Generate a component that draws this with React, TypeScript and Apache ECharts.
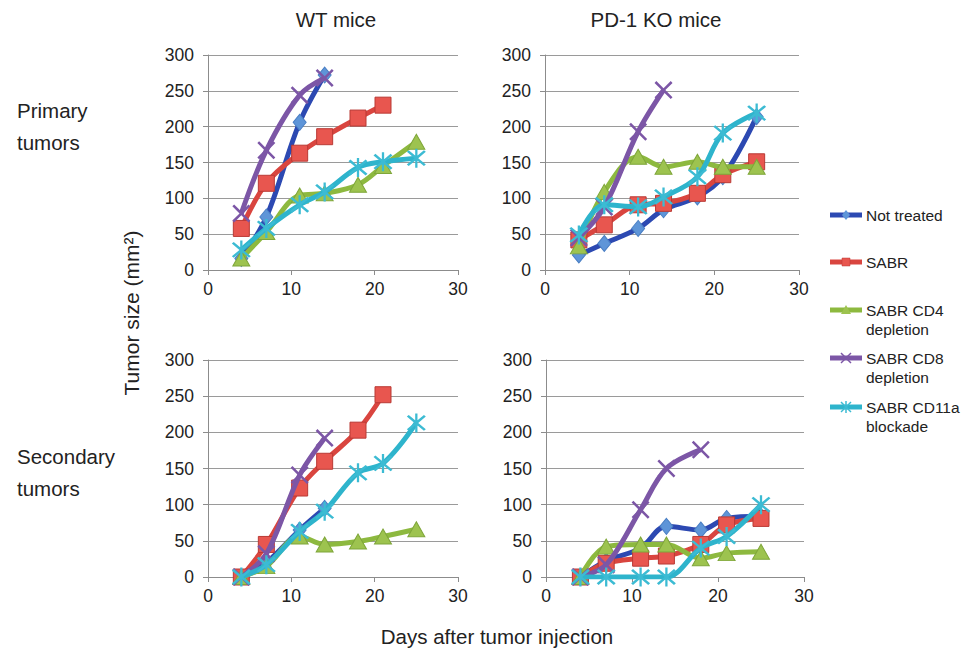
import React, { useEffect, useRef } from "react";
import * as echarts from "echarts";

const DAYS = [4, 7, 11, 14, 18, 21, 25];
const SERIES_NAMES = ["Not treated", "SABR", "SABR CD4\ndepletion", "SABR CD8\ndepletion", "SABR CD11a\nblockade"];
const LINE_COLORS = ["#2C49B2", "#D9453F", "#8DB93F", "#7C56A6", "#2EB4CC"];
const MARKER_FILL = ["#5E95D8", "#E8564F", "#9DC34F", "#7C56A6", "#3CBBD3"];
const MARKER_BORDER = ["#4A7FC4", "#B93A35", "#7FA63A", "#7C56A6", "#3CBBD3"];

const COL_TITLES = ["WT mice", "PD-1 KO mice"];
const ROW_TITLES = ["Primary\ntumors", "Secondary\ntumors"];
const X_TICKS = [0, 10, 20, 30];
const Y_TICKS = [0, 50, 100, 150, 200, 250, 300];

// WT mice, primary tumors
const wtPrimaryNotTreated = [16, 74, 206, 272];
const wtPrimarySABR = [58, 121, 163, 186, 212, 230];
const wtPrimaryCD4 = [16, 53, 104, 107, 119, 145, 179];
const wtPrimaryCD8 = [79, 167, 244, 268];
const wtPrimaryCD11a = [28, 58, 91, 109, 143, 151, 156];

// PD-1 KO mice, primary tumors
const koPrimaryNotTreated = [21, 37, 58, 84, 102, 130, 214];
const koPrimarySABR = [42, 63, 91, 93, 107, 133, 151];
const koPrimaryCD4 = [33, 109, 158, 144, 151, 144, 144];
const koPrimaryCD8 = [45, 88, 193, 251];
const koPrimaryCD11a = [49, 91, 88, 102, 130, 191, 219];

// WT mice, secondary tumors
const wtSecondaryNotTreated = [0, 20, 65, 95];
const wtSecondarySABR = [0, 45, 123, 160, 203, 252];
const wtSecondaryCD4 = [0, 15, 56, 45, 49, 56, 66];
const wtSecondaryCD8 = [0, 32, 141, 192];
const wtSecondaryCD11a = [0, 17, 63, 91, 144, 157, 213];

// PD-1 KO mice, secondary tumors
const koSecondaryNotTreated = [0, 22, 40, 70, 65, 81, 84];
const koSecondarySABR = [0, 19, 26, 29, 45, 72, 81];
const koSecondaryCD4 = [0, 42, 45, 45, 26, 33, 35];
const koSecondaryCD8 = [0, 17, 93, 150, 176];
const koSecondaryCD11a = [0, 0, 0, 0, 40, 56, 100];

const PANELS = [
  [wtPrimaryNotTreated, wtPrimarySABR, wtPrimaryCD4, wtPrimaryCD8, wtPrimaryCD11a],
  [koPrimaryNotTreated, koPrimarySABR, koPrimaryCD4, koPrimaryCD8, koPrimaryCD11a],
  [wtSecondaryNotTreated, wtSecondarySABR, wtSecondaryCD4, wtSecondaryCD8, wtSecondaryCD11a],
  [koSecondaryNotTreated, koSecondarySABR, koSecondaryCD4, koSecondaryCD8, koSecondaryCD11a],
];

const GRIDS = [
  { left: 208, top: 55, width: 250, height: 215 },
  { left: 545, top: 55, width: 254, height: 215 },
  { left: 208, top: 360, width: 250, height: 217 },
  { left: 546, top: 360, width: 258, height: 217 },
];

const X_PATH =
  "path://M1,0 L5,4 L9,0 L10,1 L6,5 L10,9 L9,10 L5,6 L1,10 L0,9 L4,5 L0,1 Z";
const STAR_PATH =
  "path://M1,0 L5,4 L9,0 L10,1 L6,5 L10,9 L9,10 L5,6 L1,10 L0,9 L4,5 L0,1 Z M4.4,-1 L5.6,-1 L5.6,11 L4.4,11 Z";
const SYMBOLS = ["diamond", "rect", "triangle", X_PATH, STAR_PATH];
const SYMBOL_SIZES: any[] = [[13, 16], 16, [17, 15], 18, 19];

export default function App() {
  const ref = useRef<HTMLDivElement>(null);
  useEffect(() => {
    if (!ref.current) return;
    const chart = echarts.init(ref.current, undefined, { renderer: "svg" });
    const font = "Liberation Sans, Arial, Helvetica, sans-serif";
    const textColor = "#222";

    const grid = GRIDS.map((g) => ({ ...g }));
    const xAxis = GRIDS.map((_, i) => ({
      type: "value",
      gridIndex: i,
      min: X_TICKS[0],
      max: X_TICKS[X_TICKS.length - 1],
      interval: 10,
      axisLine: { show: true, lineStyle: { color: "#8c8c8c", width: 1 } },
      axisTick: { show: true, length: 5, lineStyle: { color: "#8c8c8c" } },
      splitLine: { show: false },
      axisLabel: { color: textColor, fontSize: 17.5, fontFamily: font, margin: 10 },
    }));
    const yAxis = GRIDS.map((_, i) => ({
      type: "value",
      gridIndex: i,
      min: Y_TICKS[0],
      max: Y_TICKS[Y_TICKS.length - 1],
      interval: 50,
      axisLine: { show: true, lineStyle: { color: "#8c8c8c", width: 1 } },
      axisTick: { show: true, length: 5, lineStyle: { color: "#8c8c8c" } },
      splitLine: { show: true, lineStyle: { color: "#9a9a9a", width: 1 } },
      axisLabel: { color: textColor, fontSize: 17.5, fontFamily: font, margin: 14 },
    }));

    const series: any[] = [];
    PANELS.forEach((panel, p) => {
      panel.forEach((vals, s) => {
        series.push({
          type: "line",
          name: SERIES_NAMES[s],
          xAxisIndex: p,
          yAxisIndex: p,
          data: vals.map((v, k) => [DAYS[k], v]),
          smooth: 0.35,
          symbol: SYMBOLS[s],
          symbolSize: SYMBOL_SIZES[s],
          lineStyle: { color: LINE_COLORS[s], width: 5 },
          itemStyle: {
            color: MARKER_FILL[s],
            borderColor: MARKER_BORDER[s],
            borderWidth: s >= 3 ? 0 : 1,
          },
          z: 2 + s,
        });
      });
    });

    const graphic: any[] = [];
    // Column titles
    const colCenters = [336, 656];
    COL_TITLES.forEach((t, i) => {
      graphic.push({
        type: "text",
        x: colCenters[i],
        y: 19,
        style: { text: t, fill: textColor, font: `20.5px ${font}`, textAlign: "center", textVerticalAlign: "middle" },
      });
    });
    // Row titles
    const rowTops = [94, 440];
    ROW_TITLES.forEach((t, i) => {
      graphic.push({
        type: "text",
        x: 17,
        y: rowTops[i],
        style: { text: t, fill: textColor, font: `20.5px ${font}`, lineHeight: 32, textAlign: "left", textVerticalAlign: "top" },
      });
    });
    // Y axis title
    graphic.push({
      type: "text",
      x: 131,
      y: 313,
      rotation: Math.PI / 2,
      style: {
        text: "Tumor size (mm²)",
        fill: textColor,
        font: `21px ${font}`,
        textAlign: "center",
        textVerticalAlign: "middle",
      },
    });
    // X axis title
    graphic.push({
      type: "text",
      x: 497,
      y: 636,
      style: { text: "Days after tumor injection", fill: textColor, font: `20.5px ${font}`, textAlign: "center", textVerticalAlign: "middle" },
    });

    // Legend
    const legendY = [215, 262, 310, 358, 407];
    SERIES_NAMES.forEach((name, i) => {
      const y = legendY[i];
      const cx = 846;
      graphic.push({
        type: "line",
        shape: { x1: 830, y1: y, x2: 862, y2: y },
        style: { stroke: LINE_COLORS[i], lineWidth: 5 },
      });
      if (i === 0) {
        graphic.push({ type: "polygon", shape: { points: [[cx, y - 5], [cx + 4, y], [cx, y + 5], [cx - 4, y]] }, style: { fill: MARKER_FILL[0] } });
      } else if (i === 1) {
        graphic.push({ type: "rect", shape: { x: cx - 4, y: y - 4, width: 8, height: 8 }, style: { fill: MARKER_FILL[1], stroke: MARKER_BORDER[1], lineWidth: 0.5 } });
      } else if (i === 2) {
        graphic.push({ type: "polygon", shape: { points: [[cx, y - 5], [cx + 5, y + 4], [cx - 5, y + 4]] }, style: { fill: MARKER_FILL[2] } });
      } else {
        graphic.push({ type: "line", shape: { x1: cx - 5, y1: y - 5, x2: cx + 5, y2: y + 5 }, style: { stroke: MARKER_FILL[i], lineWidth: 1.5 } });
        graphic.push({ type: "line", shape: { x1: cx - 5, y1: y + 5, x2: cx + 5, y2: y - 5 }, style: { stroke: MARKER_FILL[i], lineWidth: 1.5 } });
        if (i === 4) {
          graphic.push({ type: "line", shape: { x1: cx, y1: y - 6, x2: cx, y2: y + 6 }, style: { stroke: MARKER_FILL[i], lineWidth: 1.5 } });
        }
      }
      graphic.push({
        type: "text",
        x: 866,
        y: y - 9,
        style: { text: name, fill: textColor, font: `15.5px ${font}`, lineHeight: 19, textAlign: "left", textVerticalAlign: "top" },
      });
    });

    chart.setOption({
      animation: false,
      backgroundColor: "#ffffff",
      textStyle: { fontFamily: font },
      grid,
      xAxis,
      yAxis,
      series,
      graphic,
    });
    return () => chart.dispose();
  }, []);
  return (
    <div
      ref={ref}
      style={{ position: "fixed", left: 0, top: 0, width: 968, height: 651, background: "#fff" }}
    />
  );
}
